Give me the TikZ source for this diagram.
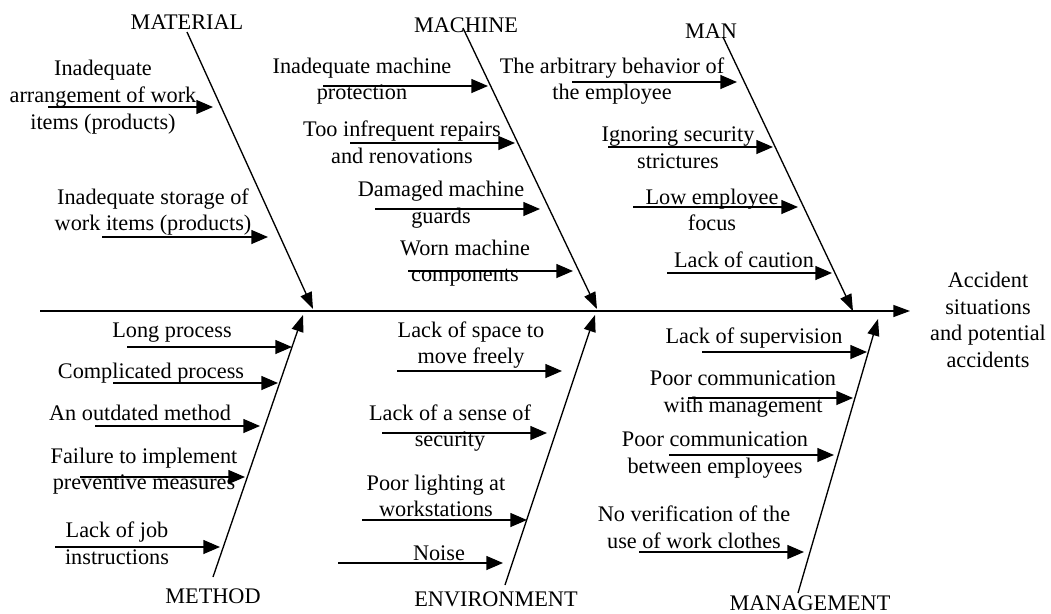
\documentclass[tikz,border=0pt]{standalone}
\usepackage{fontspec}
\setmainfont{Liberation Serif}
\usetikzlibrary{arrows.meta}
\begin{document}
\begin{tikzpicture}[x=0.75pt,y=-0.75pt,
  txt/.style={font=\fontsize{16.7pt}{20pt}\selectfont, align=center, inner sep=0pt},
  arr/.style={line width=1pt, -{Triangle[length=12.5pt,width=10.5pt]}},
  bone/.style={line width=1pt, -{Triangle[length=12.5pt,width=9pt]}}]
\useasboundingbox (0,0) rectangle (1051,614);

% spine
\coordinate (sp0) at (40,311);
\coordinate (sp1) at (910,311);
\draw[bone] (sp0) -- (sp1);
\node[txt] (effect) at (988,320) {Accident\\situations\\and potential\\accidents};

% category labels
\node[txt] (material) at (187,22) {MATERIAL};
\node[txt] (machine) at (466,25) {MACHINE};
\node[txt] (man) at (711,31) {MAN};
\node[txt] (method) at (213,596) {METHOD};
\node[txt] (environment) at (496,599) {ENVIRONMENT};
\node[txt] (management) at (810,603) {MANAGEMENT};

% bones
\coordinate (bA0) at (187,32);  \coordinate (bA1) at (313,309);
\coordinate (bB0) at (463,28);  \coordinate (bB1) at (597,309);
\coordinate (bC0) at (723,37);  \coordinate (bC1) at (853,311);
\coordinate (bD0) at (213,577); \coordinate (bD1) at (303,315);
\coordinate (bE0) at (505,585); \coordinate (bE1) at (595,315);
\coordinate (bF0) at (798,593); \coordinate (bF1) at (878,319);
\draw[bone] (bA0) -- (bA1);
\draw[bone] (bB0) -- (bB1);
\draw[bone] (bC0) -- (bC1);
\draw[bone] (bD0) -- (bD1);
\draw[bone] (bE0) -- (bE1);
\draw[bone] (bF0) -- (bF1);

% MATERIAL causes
\node[txt] (a1) at (103,97) {Inadequate\\arrangement of work\\items (products)};
\coordinate (a1s) at (48,107); \coordinate (a1e) at (213,107);
\draw[arr] (a1s) -- (a1e);
\node[txt] (a2) at (153,212) {Inadequate storage of\\work items (products)};
\coordinate (a2s) at (102,237); \coordinate (a2e) at (268,237);
\draw[arr] (a2s) -- (a2e);

% MACHINE causes
\node[txt] (b1) at (362,81) {Inadequate machine\\protection};
\coordinate (b1s) at (323,86); \coordinate (b1e) at (488,86);
\draw[arr] (b1s) -- (b1e);
\node[txt] (b2) at (402,142) {Too infrequent repairs\\and renovations};
\coordinate (b2s) at (350,143); \coordinate (b2e) at (515,143);
\draw[arr] (b2s) -- (b2e);
\node[txt] (b3) at (441,205) {Damaged machine\\guards};
\coordinate (b3s) at (375,209); \coordinate (b3e) at (540,209);
\draw[arr] (b3s) -- (b3e);
\node[txt] (b4) at (465,263) {Worn machine\\components};
\coordinate (b4s) at (408,271); \coordinate (b4e) at (573,271);
\draw[arr] (b4s) -- (b4e);

% MAN causes
\node[txt] (c1) at (612,81) {The arbitrary behavior of\\the employee};
\coordinate (c1s) at (572,82); \coordinate (c1e) at (737,82);
\draw[arr] (c1s) -- (c1e);
\node[txt] (c2) at (678,148) {Ignoring security\\strictures};
\coordinate (c2s) at (608,147); \coordinate (c2e) at (773,147);
\draw[arr] (c2s) -- (c2e);
\node[txt] (c3) at (712,210) {Low employee\\focus};
\coordinate (c3s) at (633,207); \coordinate (c3e) at (798,207);
\draw[arr] (c3s) -- (c3e);
\node[txt] (c4) at (744,260) {Lack of caution};
\coordinate (c4s) at (667,273); \coordinate (c4e) at (832,273);
\draw[arr] (c4s) -- (c4e);

% METHOD causes
\node[txt] (d1) at (172,333) {Long process};
\coordinate (d1s) at (127,347); \coordinate (d1e) at (292,347);
\draw[arr] (d1s) -- (d1e);
\node[txt] (d2) at (151,373) {Complicated process};
\coordinate (d2s) at (113,383); \coordinate (d2e) at (278,383);
\draw[arr] (d2s) -- (d2e);
\node[txt] (d3) at (140,413) {An outdated method};
\coordinate (d3s) at (95,426); \coordinate (d3e) at (260,426);
\draw[arr] (d3s) -- (d3e);
\node[txt] (d4) at (144,471) {Failure to implement\\preventive measures};
\coordinate (d4s) at (80,477); \coordinate (d4e) at (245,477);
\draw[arr] (d4s) -- (d4e);
\node[txt] (d5) at (117,543) {Lack of job\\instructions};
\coordinate (d5s) at (55,547); \coordinate (d5e) at (220,547);
\draw[arr] (d5s) -- (d5e);

% ENVIRONMENT causes
\node[txt] (e1) at (471,345) {Lack of space to\\move freely};
\coordinate (e1s) at (397,371); \coordinate (e1e) at (562,371);
\draw[arr] (e1s) -- (e1e);
\node[txt] (e2) at (450,428) {Lack of a sense of\\security};
\coordinate (e2s) at (382,433); \coordinate (e2e) at (547,433);
\draw[arr] (e2s) -- (e2e);
\node[txt] (e3) at (436,496) {Poor lighting at\\workstations};
\coordinate (e3s) at (362,520); \coordinate (e3e) at (527,520);
\draw[arr] (e3s) -- (e3e);
\node[txt] (e4) at (439,553) {Noise};
\coordinate (e4s) at (338,563); \coordinate (e4e) at (503,563);
\draw[arr] (e4s) -- (e4e);

% MANAGEMENT causes
\node[txt] (f1) at (754,338) {Lack of supervision};
\coordinate (f1s) at (702,352); \coordinate (f1e) at (867,352);
\draw[arr] (f1s) -- (f1e);
\node[txt] (f2) at (743,394) {Poor communication\\with management};
\coordinate (f2s) at (688,398); \coordinate (f2e) at (853,398);
\draw[arr] (f2s) -- (f2e);
\node[txt] (f3) at (715,455) {Poor communication\\between employees};
\coordinate (f3s) at (669,455); \coordinate (f3e) at (834,455);
\draw[arr] (f3s) -- (f3e);
\node[txt] (f4) at (694,527) {No verification of the\\use of work clothes};
\coordinate (f4s) at (639,552); \coordinate (f4e) at (804,552);
\draw[arr] (f4s) -- (f4e);
\end{tikzpicture}
\end{document}
